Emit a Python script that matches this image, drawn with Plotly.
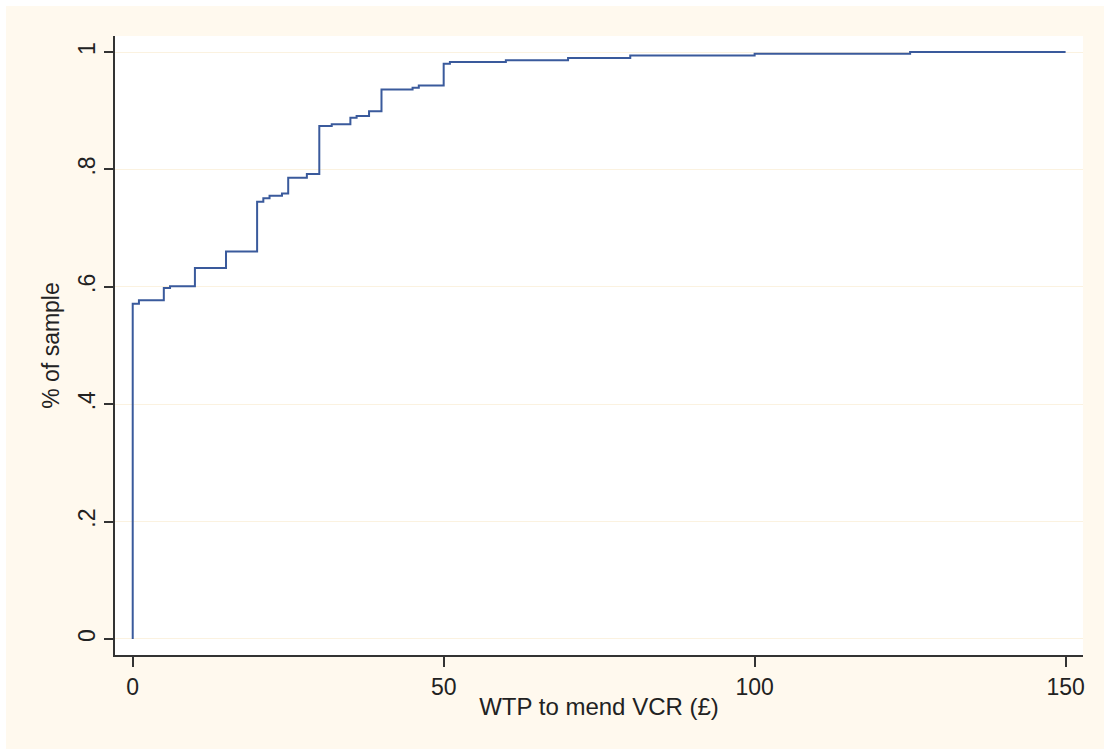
import plotly.graph_objects as go

# Cumulative share of respondents by willingness to pay (£)
wtp = [0, 0, 1, 5, 6, 10, 15, 20, 21, 22, 24, 25, 28, 30, 32, 35, 36, 38,
       40, 45, 46, 50, 51, 60, 70, 80, 100, 125, 150]
share = [0, 0.571, 0.577, 0.598, 0.601, 0.632, 0.660, 0.745, 0.751, 0.755,
         0.759, 0.786, 0.792, 0.874, 0.877, 0.888, 0.891, 0.899, 0.936,
         0.939, 0.943, 0.980, 0.983, 0.986, 0.990, 0.994, 0.997, 1.0, 1.0]

x_ticks = [0, 50, 100, 150]
y_ticks = [0, 0.2, 0.4, 0.6, 0.8, 1.0]
y_tick_text = ["0", ".2", ".4", ".6", ".8", "1"]

FONT = "Liberation Sans, Arial, sans-serif"
CREAM = "#FFF9EE"

# Plot area is 968 x 619 px; thin white strips frame the top and left edges
PW, PH = 968, 619
ML, MT, MB = 115, 36, 94

fig = go.Figure()
fig.add_trace(go.Scatter(
    x=wtp, y=share, mode="lines", line_shape="hv",
    line=dict(color="#3A5A9C", width=2),
    showlegend=False, hoverinfo="x+y",
))

fig.update_layout(
    width=1104, height=749,
    paper_bgcolor=CREAM,
    plot_bgcolor="white",
    margin=dict(l=ML, r=21, t=MT, b=MB),
    font=dict(family=FONT, size=23, color="#222"),
    shapes=[
        dict(type="rect", xref="paper", yref="paper",
             x0=-ML / PW, x1=1 + 21 / PW, y0=1 + (MT - 6) / PH, y1=1 + MT / PH,
             fillcolor="white", line=dict(width=0), layer="below"),
        dict(type="rect", xref="paper", yref="paper",
             x0=-ML / PW, x1=-(ML - 6) / PW, y0=-MB / PH, y1=1 + MT / PH,
             fillcolor="white", line=dict(width=0), layer="below"),
    ],
)

fig.update_xaxes(
    range=[-2.85, 152.8], tickvals=x_ticks,
    showline=True, linecolor="#333", linewidth=2,
    ticks="outside", ticklen=10, tickwidth=2, tickcolor="#333",
    showgrid=False, zeroline=False,
    title=dict(text="WTP to mend VCR (£)", standoff=0,
               font=dict(size=24)),
)
fig.update_yaxes(
    range=[-0.0273, 1.0273], tickvals=y_ticks, ticktext=y_tick_text,
    tickangle=-90,
    showline=True, linecolor="#333", linewidth=2,
    ticks="outside", ticklen=9, tickwidth=2, tickcolor="#333",
    showgrid=True, gridcolor="#FBF2E0", gridwidth=1,
    zeroline=False,
    title=dict(text="% of sample", standoff=8, font=dict(size=23)),
)

fig.write_html("out.html")
